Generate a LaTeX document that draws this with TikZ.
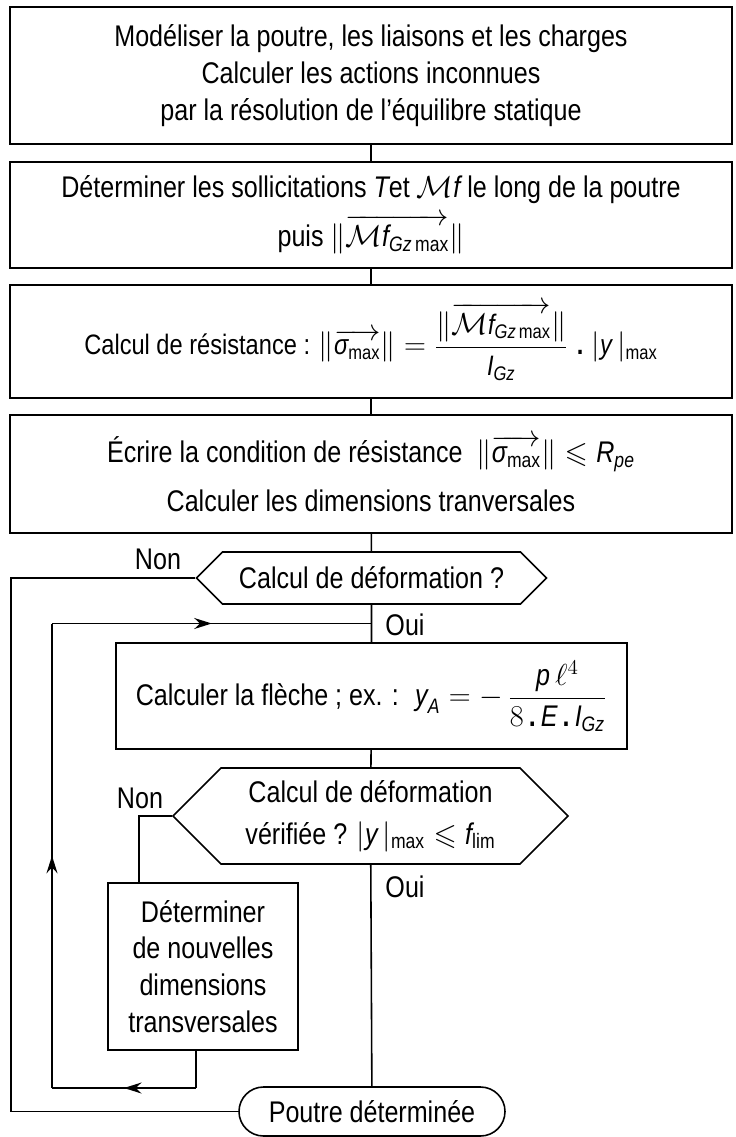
\documentclass[tikz,border=0pt]{standalone}
\usepackage{amsmath,amssymb}
\usepackage{fontspec}
\setmainfont{Liberation Sans}[FakeStretch=0.84]
\usetikzlibrary{shapes.symbols,shapes.misc,arrows.meta,decorations.markings,calc}

\newcommand{\vi}[1]{\text{\itshape #1}}
\newcommand{\Mf}{\mathcal{M}\vi{f}}
\newcommand{\vmax}{\text{max}}

\begin{document}
\begin{tikzpicture}[line width=0.9pt,
  font=\fontsize{17}{21}\selectfont,
  box/.style={draw, rectangle, align=center, inner sep=0pt},
  choice/.style={draw, signal, signal to=west and east, signal pointer angle=90, align=center, inner sep=0pt},
  term/.style={draw, rounded rectangle, inner sep=0pt},
  midarrow/.style={postaction={decorate}, decoration={markings,
    mark=at position 0.5 with {\arrow{Stealth[length=3.5mm,width=2.2mm]}}}}]
\useasboundingbox (0,0) rectangle (14.72,-22.74);

\node[box, minimum width=14.44cm, minimum height=2.74cm] (mod) at (7.42,-1.51)
  {Modéliser la poutre, les liaisons et les charges\\
   Calculer les actions inconnues\\
   par la résolution de l'équilibre statique};
\node[box, minimum width=14.44cm, minimum height=2.12cm] (sol) at (7.42,-4.30)
  {Déterminer les sollicitations $\vi{T}$et $\Mf$ le long de la poutre\\[5pt]
   puis $\|\overrightarrow{\Mf_{\vi{Gz}\,\vmax}}\|$};
\node[box, minimum width=14.44cm, minimum height=2.26cm, font=\fontsize{16}{21}\selectfont] (res) at (7.42,-6.83)
  {Calcul de résistance : $\|\overrightarrow{\vi{σ}_{\vmax}}\| =
   \dfrac{\|\overrightarrow{\Mf_{\vi{Gz}\,\vmax}}\|}{\vi{I}_{\vi{Gz}}}\;\textbf{.}\;|\vi{y}\,|_{\vmax}$};
\node[box, minimum width=14.44cm, minimum height=2.36cm] (cond) at (7.42,-9.48)
  {Écrire la condition de résistance \ $\|\overrightarrow{\vi{σ}_{\vmax}}\| \leqslant \vi{R}_{\vi{pe}}$\\[7pt]
   Calculer les dimensions tranversales};
\node[choice, minimum width=7.0cm, minimum height=1.04cm] (def) at (7.43,-11.56)
  {Calcul de déformation ?};
\node[box, minimum width=10.22cm, minimum height=2.12cm] (fl) at (7.43,-13.92)
  {Calculer la flèche ; ex. : \ $\vi{y}_{\vi{A}} = -\,\dfrac{\vi{p}\,\ell^{4}}{8\,\textbf{.}\,\vi{E}\,\textbf{.}\,\vi{I}_{\vi{Gz}}}$};
\node[choice, minimum width=7.9cm, minimum height=1.92cm] (ver) at (7.41,-16.32)
  {Calcul de déformation\\[3pt]
   vérifiée ? $|\vi{y}\,|_{\vmax} \leqslant \vi{f}_{\text{lim}}$};
\node[box, minimum width=3.8cm, minimum height=3.34cm] (nd) at (4.06,-19.33)
  {Déterminer\\de nouvelles\\dimensions\\transversales};
\node[term, minimum width=5.32cm, minimum height=0.98cm] (pt) at (7.44,-22.23)
  {Poutre déterminée};

\node (non1) at (3.16,-11.18) {Non};
\node (oui1) at (8.10,-12.50) {Oui};
\node (non2) at (2.80,-15.96) {Non};
\node (oui2) at (8.10,-17.74) {Oui};

\coordinate (j1) at ($(def.south)!0.5!(fl.north)$);
\coordinate (o1) at (0.22,-11.56);
\coordinate (n2) at (2.78,-16.32);
\coordinate (c1) at (3.92,-21.76);
\coordinate (c2) at (1.04,-21.76);

\draw (mod) -- (sol);
\draw (sol) -- (res);
\draw (res) -- (cond);
\draw (cond) -- (def);
\draw (def) -- (fl);
\draw (fl) -- (ver);
\draw (ver) -- (pt);
\draw (def.west) -- (o1) |- (pt.west);
\draw (ver.west) -- (n2) -- (n2 |- nd.north);
\draw (nd.south -| c1) -- (c1);
\draw[midarrow] (c1) -- (c2);
\draw[midarrow] (c2) -- (c2 |- j1);
\draw[midarrow] (c2 |- j1) -- (j1);
\end{tikzpicture}
\end{document}
